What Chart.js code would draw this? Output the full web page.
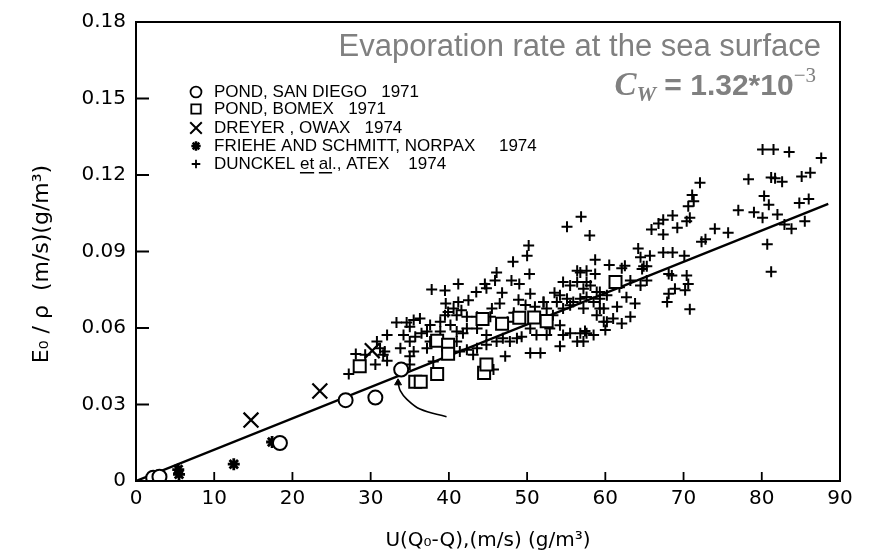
<!DOCTYPE html>
<html>
<head>
<meta charset="utf-8">
<script src="https://cdn.jsdelivr.net/npm/chart.js@4.4.1/dist/chart.umd.min.js"></script>
<style>
  html, body { margin:0; padding:0; background:#fff; }
  #wrap { width:869px; height:558px; }
</style>
</head>
<body>
<div id="wrap"><canvas id="chart" width="869" height="558"></canvas></div>
<script>
// axis ticks
const xTicks = [0, 10, 20, 30, 40, 50, 60, 70, 80, 90];
const yTicks = [0, 0.03, 0.06, 0.09, 0.12, 0.15, 0.18];

// legend text, one per series
const seriesNames = [
  'POND, SAN DIEGO   1971',
  'POND, BOMEX   1971',
  'DREYER , OWAX   1974',
  'FRIEHE AND SCHMITT, NORPAX     1974',
  'DUNCKEL et al., ATEX    1974'
];

const headerLine = 'Evaporation rate at the sea surface';

// [U(Qo-Q), Eo/rho]
const pondSanDiego = [[2.2,0.0013],[3.0,0.0017],[18.4,0.0149],[26.8,0.0317],[30.6,0.0327],[33.9,0.0437]];
const pondBomex = [[28.6,0.045],[35.7,0.0389],[36.4,0.0389],[38.5,0.042],[38.5,0.055],[39.9,0.0534],[39.9,0.0499],
  [44.3,0.0635],[46.8,0.0617],[49.0,0.064],[50.9,0.0641],[52.5,0.0627],[44.5,0.0424],[44.8,0.0457],[61.3,0.078]];
const dreyerOwax = [[14.7,0.0239],[23.5,0.0353],[30.2,0.0511]];
const frieheNorpax = [[5.4,0.0045],[5.5,0.0026],[12.5,0.0066],[17.4,0.0153]];
const dunckelAtex = [
  [27.2,0.042],[28.1,0.0498],[29.3,0.0495],[30.8,0.0547],[31.8,0.0508],[32.1,0.0472],[30.6,0.0457],[32.1,0.0573],
  [33.3,0.0622],[34.2,0.0573],[33.8,0.0521],[34.6,0.0622],[35.5,0.0631],[36.3,0.0637],[35.0,0.0547],[35.7,0.0566],
  [35.5,0.0508],[35.0,0.0457],[37.2,0.0586],[37.6,0.0547],[38.0,0.0469],[38.9,0.0625],[39.5,0.065],[40.6,0.0676],
  [41.0,0.0586],[41.4,0.0508],[31.2,0.0521],[31.6,0.0495],[35.0,0.0489],[35.0,0.0605],[36.5,0.0579],[37.6,0.0612],
  [56.9,0.1036],[55.1,0.0997],[58.0,0.0963],[50.2,0.0924],[50.0,0.0883],[48.2,0.086],[58.7,0.0868],[46.1,0.0818],
  [45.9,0.0786],[48.0,0.0786],[49.0,0.0773],[50.3,0.0812],[56.4,0.0825],[57.6,0.0825],[44.6,0.0773],[43.5,0.0741],
  [46.8,0.0738],[44.8,0.0756],[37.8,0.0751],[39.5,0.0747],[41.2,0.0773],[50.4,0.0734],[48.9,0.0711],[52.1,0.0702],
  [39.6,0.0696],[41.2,0.0702],[42.5,0.0709],[39.9,0.0663],[41.6,0.067],[41.0,0.065],[42.3,0.0644],[43.6,0.0644],
  [45.5,0.0676],[46.5,0.0696],[45.3,0.0644],[37.2,0.0521],[38.9,0.0586],[41.0,0.0547],[42.3,0.0515],[43.1,0.0495],
  [43.6,0.0521],[44.8,0.0534],[46.1,0.0547],[46.9,0.056],[47.8,0.0547],[47.2,0.0489],[45.7,0.0437],[44.8,0.0573],
  [43.6,0.0598],[42.3,0.0598],[41.8,0.0579],[48.7,0.056],[49.3,0.0566],[50.4,0.0598],[51.2,0.0573],[52.5,0.0573],
  [52.9,0.0598],[54.2,0.0611],[54.6,0.0573],[55.5,0.0579],[56.8,0.0579],[57.6,0.0579],[58.5,0.0573],[59.8,0.0625],
  [50.4,0.0502],[51.7,0.0502],[54.2,0.0528],[56.4,0.0547],[57.2,0.0547],
  [54.6,0.078],[55.5,0.0767],[56.4,0.078],[57.2,0.0754],[58.1,0.0767],[58.9,0.0741],[54.2,0.0728],[55.1,0.0715],
  [55.9,0.0702],[56.8,0.0715],[57.6,0.0722],[58.5,0.0702],[59.3,0.0715],[60.2,0.0728],[54.6,0.0676],[55.5,0.0689],
  [57.2,0.0676],[59.8,0.0676],[53.8,0.0702],[52.5,0.0676],[52.1,0.0702],
  [80.1,0.130],[81.5,0.130],[83.5,0.129],[87.6,0.1267],[78.3,0.1183],[81.2,0.119],[81.7,0.1187],[82.6,0.1174],
  [85.1,0.1194],[86.2,0.1209],[72.1,0.117],[71.1,0.1122],[71.3,0.1097],[70.6,0.1077],[70.8,0.1032],[70.4,0.1019],
  [68.6,0.1041],[67.4,0.1025],[65.9,0.0986],[67.4,0.0967],[69.2,0.0993],[66.8,0.1010],[77.0,0.1062],[79.0,0.1054],
  [80.1,0.1032],[80.3,0.1118],[80.9,0.1083],[82.0,0.1045],[84.8,0.109],[86.0,0.1106],[85.5,0.1019],[83.8,0.0989],
  [82.9,0.1006],[80.7,0.0928],[81.2,0.0821],[74.0,0.0989],[72.8,0.0948],[72.3,0.0938],[75.7,0.0974],[64.2,0.0912],
  [64.5,0.0877],[65.7,0.0883],[67.4,0.0896],[68.6,0.0896],[70.1,0.0883],[64.9,0.0842],[65.3,0.0842],[64.7,0.0831],
  [60.5,0.0847],[62.1,0.0834],[62.5,0.0844],[68.1,0.0812],[68.5,0.0806],[70.4,0.0806],[70.6,0.0773],[68.9,0.0754],
  [68.1,0.0734],[67.9,0.0702],[70.2,0.0748],[70.8,0.0674],[65.3,0.0786],[64.5,0.0767],[63.2,0.0786],[63.8,0.0696],
  [63.2,0.0644],[62.1,0.0618],[61.0,0.0637],[60.2,0.0625],[60.0,0.0592],[57.4,0.0588],[59.3,0.0676],[58.9,0.065],
  [61.5,0.0683],[62.7,0.0721],[56.8,0.0818],[57.6,0.078],[59.3,0.0741],[58.7,0.0812],
  [47.5,0.0625],[48.3,0.0660],[53.3,0.0650],[51.0,0.0683],[49.8,0.0690],[53.5,0.0738],[61.8,0.0760],[40.2,0.0612]
];

// fitted line and the hand-drawn arrow pointing at a circle
const fitLine = [[0,0],[88.5,0.1087]];
const arrowPath = [[39.7,0.0252],[36.3,0.0282],[34.6,0.0321],[33.8,0.0353],[33.5,0.0385]];

const toXY = arr => arr.map(p => ({x:p[0], y:p[1]}));

// marker look per series (same order as seriesNames)
const markers = [
  {pointStyle:'circle', radius:7, borderWidth:2},
  {pointStyle:'rect', radius:8.5, borderWidth:2},
  {pointStyle:'crossRot', radius:10.5, borderWidth:2.2},
  {pointStyle:'star', radius:6, borderWidth:2.8},
  {pointStyle:'cross', radius:5.5, borderWidth:2}
];
const seriesData = [pondSanDiego, pondBomex, dreyerOwax, frieheNorpax, dunckelAtex];

const fontFam = '"Liberation Sans", Arial, sans-serif';
const tickFam = '"DejaVu Sans", sans-serif';
Chart.defaults.font.family = fontFam;
Chart.defaults.color = '#000';

const pointSets = seriesData.map((d, i) => ({
  label: seriesNames[i],
  data: toXY(d),
  pointStyle: markers[i].pointStyle,
  pointRadius: markers[i].radius,
  pointHoverRadius: markers[i].radius,
  pointBorderWidth: markers[i].borderWidth,
  pointBorderColor: '#000',
  pointBackgroundColor: '#fff',
  borderColor: '#000',
  backgroundColor: '#fff'
}));

function drawMarker(ctx, m, x, y) {
  ctx.save();
  ctx.strokeStyle = '#000';
  ctx.fillStyle = '#fff';
  ctx.lineWidth = m.borderWidth;
  Chart.helpers.drawPoint(ctx, {pointStyle:m.pointStyle, radius:m.radius, rotation:0, borderWidth:m.borderWidth}, x, y);
  ctx.restore();
}

const overlayPlugin = {
  id: 'overlay',
  afterDraw(chart) {
    const {ctx, chartArea:a, scales:{x, y}} = chart;
    ctx.save();
    // frame and inward ticks
    ctx.strokeStyle = '#000';
    ctx.lineWidth = 2;
    ctx.strokeRect(a.left, a.top, a.right - a.left, a.bottom - a.top);
    ctx.lineWidth = 1.8;
    ctx.beginPath();
    xTicks.forEach(v => { const px = x.getPixelForValue(v); ctx.moveTo(px, a.bottom); ctx.lineTo(px, a.bottom - 9); });
    yTicks.forEach(v => { const py = y.getPixelForValue(v); ctx.moveTo(a.left, py); ctx.lineTo(a.left + 13, py); });
    ctx.stroke();

    // y axis title
    ctx.save();
    ctx.translate(42, 264);
    ctx.rotate(-Math.PI / 2);
    ctx.fillStyle = '#000';
    ctx.textAlign = 'center';
    ctx.textBaseline = 'middle';
    ctx.font = '22px ' + tickFam;
    ctx.fillText('E\u2080 / \u03C1  (m/s)(g/m\u00B3)', 0, 0);
    ctx.restore();

    // legend
    const rows = [92, 109, 128, 146, 164];
    ctx.font = '17px ' + fontFam;
    ctx.fillStyle = '#000';
    ctx.textAlign = 'left';
    ctx.textBaseline = 'middle';
    seriesNames.forEach((name, i) => {
      const m = Object.assign({}, markers[i], {radius: markers[i].radius * 0.78, borderWidth: markers[i].borderWidth * 0.9});
      drawMarker(ctx, m, 196, rows[i]);
      ctx.fillText(name, 214, rows[i]);
      ['et', 'al'].forEach(w => {
        const k = name.indexOf(' ' + w);
        if (k < 0) return;
        const x0 = 214 + ctx.measureText(name.slice(0, k + 1)).width;
        const w0 = ctx.measureText(w).width;
        ctx.fillRect(x0, rows[i] + 8, w0, 1.5);
      });
    });

    // header in gray
    ctx.fillStyle = '#808080';
    ctx.textAlign = 'right';
    ctx.textBaseline = 'alphabetic';
    ctx.font = '31px ' + fontFam;
    ctx.fillText(headerLine, 821, 56);

    const runs = [
      {t:'C', f:'italic bold 33px "Liberation Serif", serif', dy:0},
      {t:'W', f:'italic bold 22px "Liberation Serif", serif', dy:6},
      {t:' = 1.32*10', f:'bold 30px ' + fontFam, dy:0},
      {t:'\u22123', f:'21px "Liberation Serif", serif', dy:-13}
    ];
    let total = 0;
    runs.forEach(r => { ctx.font = r.f; r.w = ctx.measureText(r.t).width; total += r.w; });
    let cx = 816 - total;
    ctx.textAlign = 'left';
    runs.forEach(r => { ctx.font = r.f; ctx.fillText(r.t, cx, 95 + r.dy); cx += r.w; });
    ctx.restore();
  }
};

new Chart(document.getElementById('chart'), {
  type: 'scatter',
  data: {
    datasets: pointSets.concat([
      {
        type: 'line',
        data: toXY(fitLine),
        showLine: true,
        borderColor: '#000',
        borderWidth: 2.4,
        pointRadius: 0,
        fill: false
      },
      {
        type: 'line',
        data: toXY(arrowPath),
        showLine: true,
        borderColor: '#000',
        borderWidth: 1.6,
        tension: 0.4,
        fill: false,
        pointStyle: 'triangle',
        pointRadius: arrowPath.map((p, i) => i === arrowPath.length - 1 ? 4 : 0),
        pointBackgroundColor: '#000',
        pointBorderColor: '#000',
        pointBorderWidth: 1
      }
    ])
  },
  options: {
    responsive: false,
    animation: false,
    devicePixelRatio: 1,
    layout: { padding: { top: 17, right: 29, left: 0, bottom: 0 } },
    plugins: { legend: { display: false }, tooltip: { enabled: false } },
    scales: {
      x: {
        type: 'linear', min: 0, max: 90,
        afterBuildTicks: s => { s.ticks = xTicks.map(v => ({value: v})); },
        afterFit: s => { s.height = 77; },
        grid: { display: false, drawTicks: false },
        border: { display: false },
        ticks: { color: '#000', font: { size: 20, family: tickFam }, padding: 6, maxRotation: 0, autoSkip: false },
        title: { display: true, text: 'U(Q\u2080-Q),(m/s) (g/m\u00B3)', color: '#000', font: { size: 20, family: tickFam }, padding: 5 }
      },
      y: {
        type: 'linear', min: 0, max: 0.18,
        afterBuildTicks: s => { s.ticks = yTicks.map(v => ({value: v})); },
        afterFit: s => { s.width = 136; },
        grid: { display: false, drawTicks: false },
        border: { display: false },
        ticks: {
          color: '#000', font: { size: 20, family: tickFam }, padding: 10, autoSkip: false,
          callback: v => v === 0 ? '0' : v.toFixed(2)
        }
      }
    }
  },
  plugins: [overlayPlugin]
});
</script>
</body>
</html>
